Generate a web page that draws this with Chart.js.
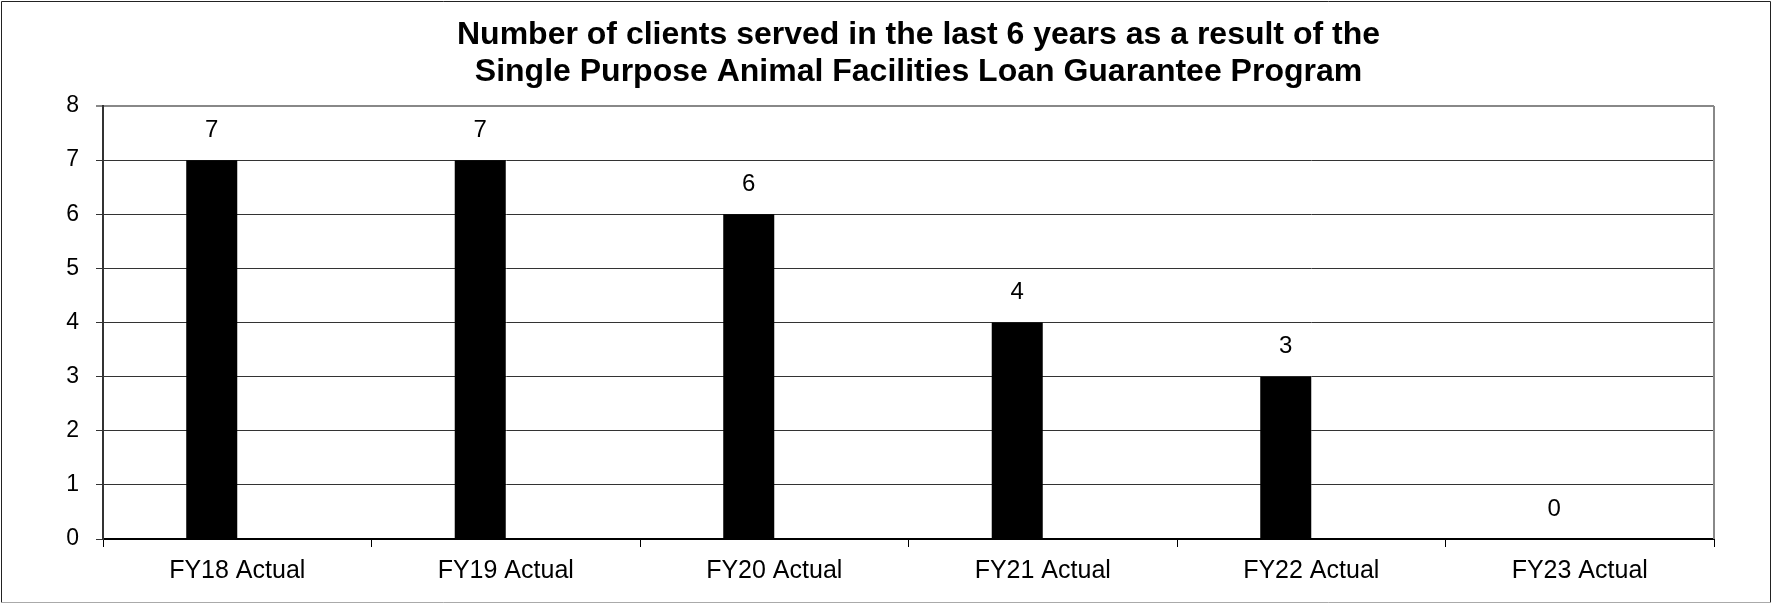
<!DOCTYPE html>
<html>
<head>
<meta charset="utf-8">
<script src="https://cdn.jsdelivr.net/npm/chart.js@4"></script>
<style>
  html, body { margin: 0; padding: 0; background: #fff; }
  .chart-frame { width: 1773px; height: 605px; position: relative; }
</style>
</head>
<body>
<div class="chart-frame"><canvas id="clientsChart"></canvas></div>
<script>
const titleLines = [
  "Number of clients served in the last 6 years as a result of the",
  "Single Purpose Animal Facilities Loan Guarantee Program"
];
const fiscalYears = ["FY18 Actual", "FY19 Actual", "FY20 Actual", "FY21 Actual", "FY22 Actual", "FY23 Actual"];
const clientsServed = [7, 7, 6, 4, 3, 0];
// second (empty) series, as in the original workbook, so the bars sit left of centre
const blankSeries = [null, null, null, null, null, null];
const yTicks = [0, 1, 2, 3, 4, 5, 6, 7, 8];

const font = '"Liberation Sans", Arial, sans-serif';

Chart.defaults.color = "#000";
Chart.defaults.font.family = font;

const framePlugin = {
  id: "frame",
  beforeDraw(chart) {
    const { ctx, width, height } = chart;
    ctx.save();
    ctx.fillStyle = "#fff";
    ctx.fillRect(0, 0, width, height);
    ctx.restore();
  },
  afterDraw(chart) {
    const { ctx, width, height, chartArea } = chart;
    ctx.save();
    // title, centred over the plot area like the original
    ctx.fillStyle = "#000";
    ctx.font = `bold 32px ${font}`;
    ctx.textAlign = "center";
    ctx.textBaseline = "middle";
    const cx = (chartArea.left + chartArea.right) / 2 + 10;
    titleLines.forEach((line, i) => ctx.fillText(line, cx, 35 + i * 37));
    // plot area right edge
    ctx.strokeStyle = "#888";
    ctx.lineWidth = 2;
    ctx.beginPath();
    ctx.moveTo(chartArea.right, chartArea.top);
    ctx.lineTo(chartArea.right, chartArea.bottom);
    ctx.stroke();
    // outer border
    ctx.lineWidth = 1;
    ctx.strokeStyle = "#222";
    ctx.beginPath();
    ctx.moveTo(1.5, height - 2.5);
    ctx.lineTo(1.5, 1.5);
    ctx.lineTo(width - 2.5, 1.5);
    ctx.lineTo(width - 2.5, height - 2.5);
    ctx.stroke();
    ctx.strokeStyle = "#aaa";
    ctx.beginPath();
    ctx.moveTo(1.5, height - 2.5);
    ctx.lineTo(width - 2.5, height - 2.5);
    ctx.stroke();
    ctx.restore();
  }
};

const valueLabels = {
  id: "valueLabels",
  afterDatasetsDraw(chart) {
    const { ctx } = chart;
    const meta = chart.getDatasetMeta(0);
    ctx.save();
    ctx.font = `24px ${font}`;
    ctx.fillStyle = "#000";
    ctx.textAlign = "center";
    ctx.textBaseline = "middle";
    meta.data.forEach((bar, i) => {
      ctx.fillText(String(clientsServed[i]), bar.x, bar.y - 30);
    });
    ctx.restore();
  }
};

new Chart(document.getElementById("clientsChart"), {
  type: "bar",
  data: {
    labels: fiscalYears,
    datasets: [
      {
        label: "Clients served",
        data: clientsServed,
        backgroundColor: "#000",
        borderWidth: 0,
        categoryPercentage: 0.38,
        barPercentage: 1
      },
      {
        label: "",
        data: blankSeries,
        backgroundColor: "#000",
        categoryPercentage: 0.38,
        barPercentage: 1
      }
    ]
  },
  options: {
    responsive: true,
    maintainAspectRatio: false,
    animation: false,
    layout: { padding: { left: 0, right: 59, top: 106, bottom: 0 } },
    plugins: {
      legend: { display: false },
      tooltip: { enabled: false },
      title: { display: false }
    },
    scales: {
      x: {
        grid: {
          drawOnChartArea: false,
          drawTicks: true,
          tickLength: 8,
          color: "#000",
          lineWidth: 1
        },
        border: { color: "#000", width: 2 },
        ticks: {
          font: { size: 25, family: font },
          color: "#000",
          padding: 9,
          maxRotation: 0
        },
        afterFit(scale) {
          scale.height = 66;
        }
      },
      y: {
        min: 0,
        max: 8,
        afterBuildTicks(scale) {
          scale.ticks = yTicks.map((value) => ({ value }));
        },
        grid: {
          color: (c) => (c.tick && c.tick.value === 8 ? "#888" : "#333"),
          lineWidth: (c) => (c.tick && c.tick.value === 8 ? 2 : 1),
          tickLength: 7
        },
        border: { color: "#333", width: 2 },
        ticks: {
          font: { size: 23, family: font },
          color: "#000",
          padding: 17
        },
        afterFit(scale) {
          scale.width = 103;
        }
      }
    }
  },
  plugins: [framePlugin, valueLabels]
});
</script>
</body>
</html>
